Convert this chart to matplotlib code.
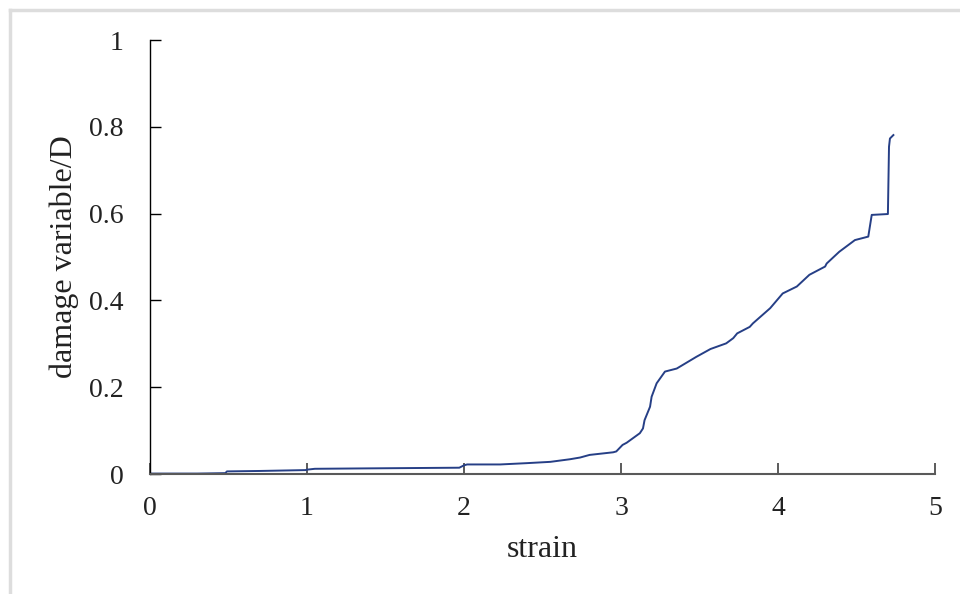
import matplotlib.pyplot as plt
from matplotlib.lines import Line2D

# data
strain = [0.0, 0.30, 0.48, 0.49, 0.70, 0.99, 1.00, 1.05, 1.40, 1.97, 2.00, 2.02,
          2.23, 2.40, 2.55, 2.675, 2.74, 2.80, 2.95, 2.97, 3.01, 3.036, 3.12,
          3.14, 3.15, 3.185, 3.195, 3.227, 3.28, 3.355, 3.48, 3.57, 3.67, 3.715,
          3.74, 3.82, 3.84, 3.95, 4.03, 4.12, 4.20, 4.30, 4.31, 4.39, 4.49,
          4.575, 4.597, 4.70, 4.707, 4.713, 4.735]
damage = [0.001, 0.001, 0.002, 0.006, 0.007, 0.009, 0.010, 0.012, 0.013, 0.0145, 0.020, 0.022,
          0.022, 0.025, 0.028, 0.034, 0.038, 0.044, 0.050, 0.052, 0.067, 0.072, 0.094,
          0.105, 0.124, 0.155, 0.178, 0.209, 0.236, 0.243, 0.270, 0.288, 0.301, 0.313,
          0.324, 0.339, 0.347, 0.382, 0.416, 0.432, 0.459, 0.478, 0.485, 0.512, 0.539,
          0.547, 0.597, 0.599, 0.754, 0.773, 0.781]

xticks = [0, 1, 2, 3, 4, 5]
yticks = [0, 0.2, 0.4, 0.6, 0.8, 1]
ytick_labels = ['0', '0.2', '0.4', '0.6', '0.8', '1']

plt.rcParams['font.family'] = ['Liberation Serif', 'DejaVu Serif']

fig = plt.figure(figsize=(9.6, 5.94), dpi=100)
ax = fig.add_axes([150 / 960, 1 - 474 / 594, 785 / 960, 434 / 594])

ax.plot(strain, damage, color='#263f86', linewidth=1.4)

ax.set_xlim(0, 5)
ax.set_ylim(0, 1)
ax.set_xticks(xticks)
ax.set_xticklabels([str(t) for t in xticks])
ax.set_yticks(yticks)
ax.set_yticklabels(ytick_labels)

for s in ['top', 'right']:
    ax.spines[s].set_visible(False)
ax.spines['bottom'].set_color('#595959')
ax.spines['bottom'].set_linewidth(1.5)
ax.spines['left'].set_color('black')
ax.spines['left'].set_linewidth(1.0)

ax.tick_params(axis='x', direction='in', length=8, width=1.2, color='#404040',
               labelsize=20, pad=16, labelcolor='#222222')
ax.tick_params(axis='y', direction='in', length=8, width=1.0, color='black',
               labelsize=20, pad=19, labelcolor='#222222')

ax.set_xlabel('strain', fontsize=23, labelpad=10, color='#222222')
ax.set_ylabel('damage variable/D', fontsize=23, labelpad=7, color='#222222')

# light frame around the picture (top and left edges)
fig.add_artist(Line2D([10 / 960, 1], [1 - 10 / 594, 1 - 10 / 594],
                      transform=fig.transFigure, color='#dddddd', linewidth=2.5))
fig.add_artist(Line2D([10 / 960, 10 / 960], [0, 1 - 10 / 594],
                      transform=fig.transFigure, color='#dddddd', linewidth=2.5))

fig.savefig('out.png', dpi=100)
